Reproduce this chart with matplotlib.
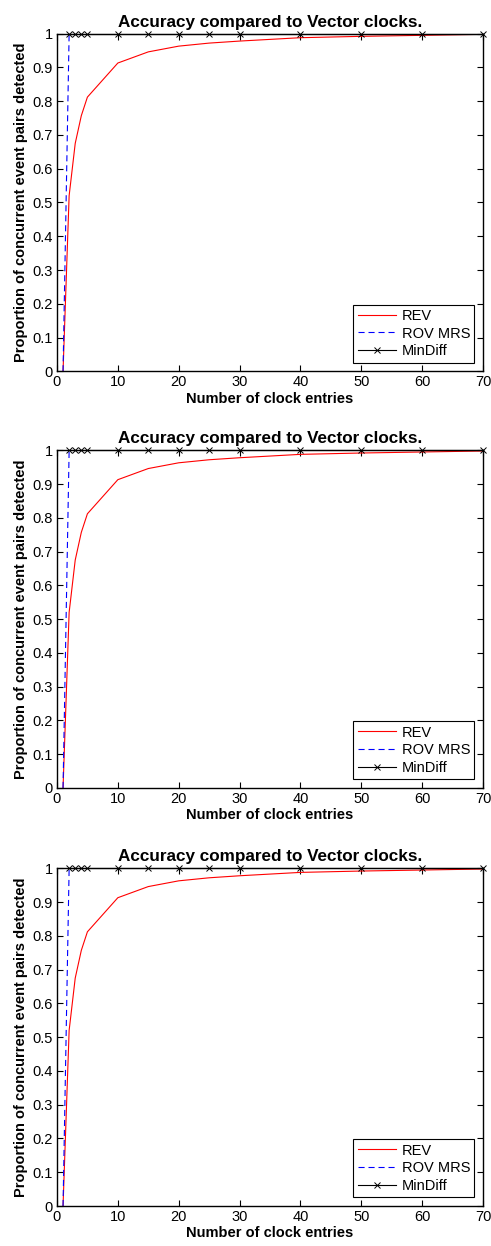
import matplotlib
matplotlib.use("Agg")
import matplotlib.pyplot as plt

plt.rcParams["font.family"] = ["Liberation Sans", "DejaVu Sans"]

# clock entries vs proportion of concurrent pairs detected
rev_x = [1, 2, 3, 4, 5, 10, 15, 20, 25, 30, 40, 50, 60, 70]
rev_y = [0.0, 0.52, 0.675, 0.757, 0.812, 0.913, 0.946, 0.963, 0.972, 0.978, 0.988, 0.992, 0.995, 0.998]

rov_x = [1, 2]
rov_y = [0.0, 1.0]

mindiff_x = [2, 3, 4, 5, 10, 15, 20, 25, 30, 40, 50, 60, 70]
mindiff_y = [1.0] * len(mindiff_x)

title = "Accuracy compared to Vector clocks."
xlabel = "Number of clock entries"
ylabel = "Proportion of concurrent event pairs detected"
xticks = [0, 10, 20, 30, 40, 50, 60, 70]
yticks = [0, 0.1, 0.2, 0.3, 0.4, 0.5, 0.6, 0.7, 0.8, 0.9, 1.0]
ytick_labels = ["0", "0.1", "0.2", "0.3", "0.4", "0.5", "0.6", "0.7", "0.8", "0.9", "1"]

fig = plt.figure(figsize=(4.91, 12.46), dpi=100)
bottoms = [0.702, 0.3676, 0.0321]

for b in bottoms:
    ax = fig.add_axes([0.116, b, 0.868, 0.271])
    ax.plot(rev_x, rev_y, color="red", linewidth=0.8, label="REV")
    ax.plot(rov_x, rov_y, color="blue", linestyle=(0, (5.5, 3.5)), linewidth=0.8, label="ROV MRS")
    ax.plot(mindiff_x, mindiff_y, color="black", linewidth=0.8, marker="x",
            markersize=4, markeredgewidth=0.7, label="MinDiff", clip_on=False, zorder=3)
    ax.set_xlim(0, 70)
    ax.set_ylim(0, 1)
    ax.set_xticks(xticks)
    ax.set_yticks(yticks)
    ax.set_yticklabels(ytick_labels)
    ax.tick_params(direction="in", top=True, right=True, length=4, width=0.8,
                   labelsize=10.5, pad=3)
    for s in ax.spines.values():
        s.set_linewidth(1.0)
    ax.set_title(title, fontsize=12.3, fontweight="bold", pad=5)
    ax.set_xlabel(xlabel, fontsize=10.5, fontweight="bold", labelpad=1.5)
    ax.set_ylabel(ylabel, fontsize=10.5, fontweight="bold", labelpad=3)
    leg = ax.legend(loc="lower right", fontsize=10.5, fancybox=False, framealpha=1,
                    edgecolor="black", borderaxespad=0.6, handlelength=2.6,
                    handletextpad=0.4, borderpad=0.3, labelspacing=0.25)
    leg.get_frame().set_linewidth(0.8)

fig.savefig("out.png", dpi=100)
